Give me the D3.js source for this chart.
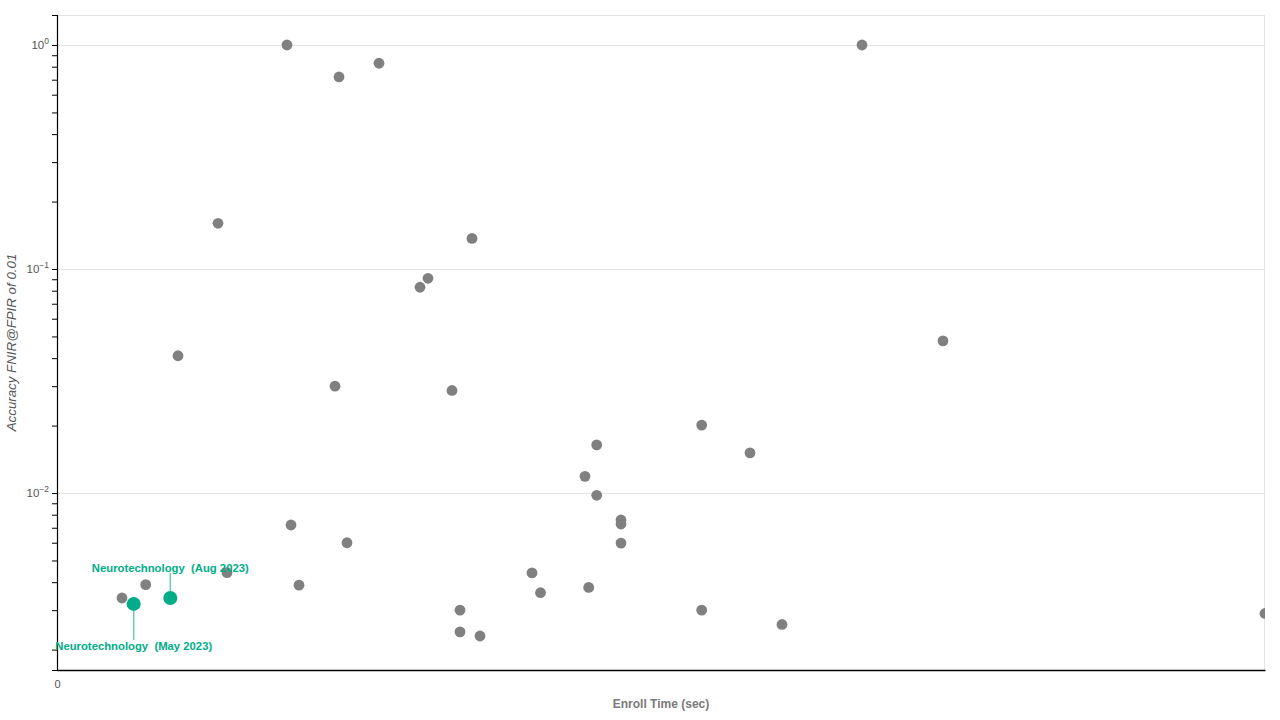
<!DOCTYPE html>
<html>
<head>
<meta charset="utf-8">
<script src="https://cdn.jsdelivr.net/npm/d3@7"></script>
<style>
  html, body { margin: 0; padding: 0; background: #fff; }
  svg { display: block; font-family: Arial, "Liberation Sans", sans-serif; }
</style>
</head>
<body>
<svg id="chart" width="1280" height="720"></svg>
<script>
// ---- data (x: enroll time in seconds, y: FNIR @ FPIR 0.01) ----
const enrollTime = [0.230, 0.282, 0.322, 0.161, 0.415, 0.371, 0.363, 0.121, 0.278, 0.395,
                    0.805, 0.886, 0.234, 0.290, 0.170, 0.242, 0.475, 0.4835, 0.403, 0.403,
                    0.423, 0.065, 0.0887, 0.6447, 0.5397, 0.693, 0.528, 0.5397, 0.564, 0.564,
                    0.564, 0.5317, 0.6447, 0.725, 1.208];
const fnir = [1.0, 0.720, 0.829, 0.160, 0.137, 0.0909, 0.0829, 0.0410, 0.0300, 0.0287,
              1.0, 0.0478, 0.00720, 0.00600, 0.00441, 0.00388, 0.00440, 0.00359, 0.00300, 0.00240,
              0.00230, 0.00340, 0.00390, 0.0201, 0.0164, 0.0151, 0.01187, 0.00977, 0.00758, 0.00727,
              0.00598, 0.00379, 0.00300, 0.00259, 0.00290];

const highlightNames = ["Neurotechnology  (May 2023)", "Neurotechnology  (Aug 2023)"];
const highlightTime = [0.0767, 0.1133];
const highlightFnir = [0.00320, 0.00340];
const highlightLabelSide = ["below", "above"];

const xDomain = [0, 1.208];
const yDomain = [0.001622, 1.361];
const xTickValues = [0];
const yMajorTicks = [1, 0.1, 0.01];
const yTickExponents = ["0", "\u22121", "\u22122"];

const xTitle = "Enroll Time (sec)";
const yTitle = "Accuracy FNIR@FPIR of 0.01";

// ---- layout ----
const margin = {left: 57, top: 15, right: 15, bottom: 50};
const W = 1280, H = 720;
const plotW = W - margin.left - margin.right;  // 1208
const plotH = H - margin.top - margin.bottom;  // 655

const svg = d3.select("#chart");
const x = d3.scaleLinear().domain(xDomain).range([0, plotW]);
const y = d3.scaleLog().domain(yDomain).range([plotH, 0]);

const g = svg.append("g").attr("transform", `translate(${margin.left},${margin.top})`);

svg.append("defs").append("clipPath").attr("id", "plotclip")
  .append("rect").attr("x", 0).attr("y", 0).attr("width", plotW).attr("height", plotH);

// frame (top/right)
g.append("line").attr("x1", 0).attr("x2", plotW).attr("y1", 0.5).attr("y2", 0.5)
  .attr("stroke", "#e2e2e2");
g.append("line").attr("x1", plotW - 0.5).attr("x2", plotW - 0.5).attr("y1", 0).attr("y2", plotH)
  .attr("stroke", "#e2e2e2");

// grid
g.append("g").selectAll("line").data(yMajorTicks).join("line")
  .attr("x1", 0).attr("x2", plotW)
  .attr("y1", d => Math.round(y(d)) + 0.5).attr("y2", d => Math.round(y(d)) + 0.5)
  .attr("stroke", "#e5e5e5").attr("stroke-width", 1);

// y axis with minor ticks
const allTicks = [];
for (let e = -3; e <= 0; e++) {
  for (let m = 1; m <= 9; m++) {
    const v = m * Math.pow(10, e);
    if (v >= yDomain[0] && v <= yDomain[1]) allTicks.push(v);
  }
}
const yAxis = d3.axisLeft(y).tickValues(allTicks).tickSize(5).tickFormat("");
const yAx = g.append("g").call(yAxis);
yAx.select(".domain").attr("stroke", "#000").attr("stroke-width", 1.2);
yAx.selectAll(".tick line").attr("stroke", "#000");

// y tick labels (10^n)
const ylab = g.append("g").selectAll("text").data(yMajorTicks).join("text")
  .attr("x", -8).attr("y", d => y(d) + 4)
  .attr("text-anchor", "end")
  .attr("fill", "#555").attr("font-size", 11.5);
ylab.append("tspan").text("10");
ylab.append("tspan").attr("dy", -5).attr("font-size", 8.5).text((d, i) => yTickExponents[i]);

// x axis
const xAxis = d3.axisBottom(x).tickValues(xTickValues).tickSize(0).tickPadding(10).tickFormat(d3.format("d"));
const xAx = g.append("g").attr("transform", `translate(0,${plotH})`).call(xAxis);
xAx.select(".domain").attr("stroke", "#000").attr("stroke-width", 1.5);
xAx.selectAll(".tick text").attr("fill", "#555").attr("font-size", 11).attr("font-family", "Arial, sans-serif");

// axis titles
svg.append("text")
  .attr("x", margin.left + plotW / 2).attr("y", 708)
  .attr("text-anchor", "middle").attr("font-size", 12).attr("font-weight", "bold")
  .attr("fill", "#7a7a7a").text(xTitle);
svg.append("text")
  .attr("transform", `translate(16,${margin.top + plotH / 2}) rotate(-90)`)
  .attr("text-anchor", "middle").attr("font-size", 13.3).attr("font-style", "italic")
  .attr("fill", "#555").text(yTitle);

// points
const pts = enrollTime.map((t, i) => ({t, f: fnir[i]}));
const pg = g.append("g").attr("clip-path", "url(#plotclip)");
pg.selectAll("circle.pt").data(pts).join("circle")
  .attr("class", "pt")
  .attr("cx", d => x(d.t)).attr("cy", d => y(d.f))
  .attr("r", 5.4).attr("fill", "#808080");

// highlighted
const green = "#00ad88";
const hl = highlightTime.map((t, i) => ({t, f: highlightFnir[i], name: highlightNames[i], side: highlightLabelSide[i]}));
const hg = g.append("g");
hg.selectAll("line").data(hl).join("line")
  .attr("x1", d => x(d.t)).attr("x2", d => x(d.t))
  .attr("y1", d => y(d.f) + (d.side === "below" ? 7 : -7))
  .attr("y2", d => y(d.f) + (d.side === "below" ? 36 : -25))
  .attr("stroke", green).attr("stroke-opacity", 0.6).attr("stroke-width", 1.5);
hg.selectAll("circle").data(hl).join("circle")
  .attr("cx", d => x(d.t)).attr("cy", d => y(d.f))
  .attr("r", 7).attr("fill", green);
hg.selectAll("text").data(hl).join("text")
  .attr("x", d => x(d.t))
  .attr("y", d => y(d.f) + (d.side === "below" ? 46 : -26))
  .attr("text-anchor", "middle").attr("font-size", 11.3).attr("font-weight", "bold")
  .attr("fill", green)
  .style("white-space", "pre").attr("xml:space", "preserve")
  .text(d => d.name);
</script>
</body>
</html>
